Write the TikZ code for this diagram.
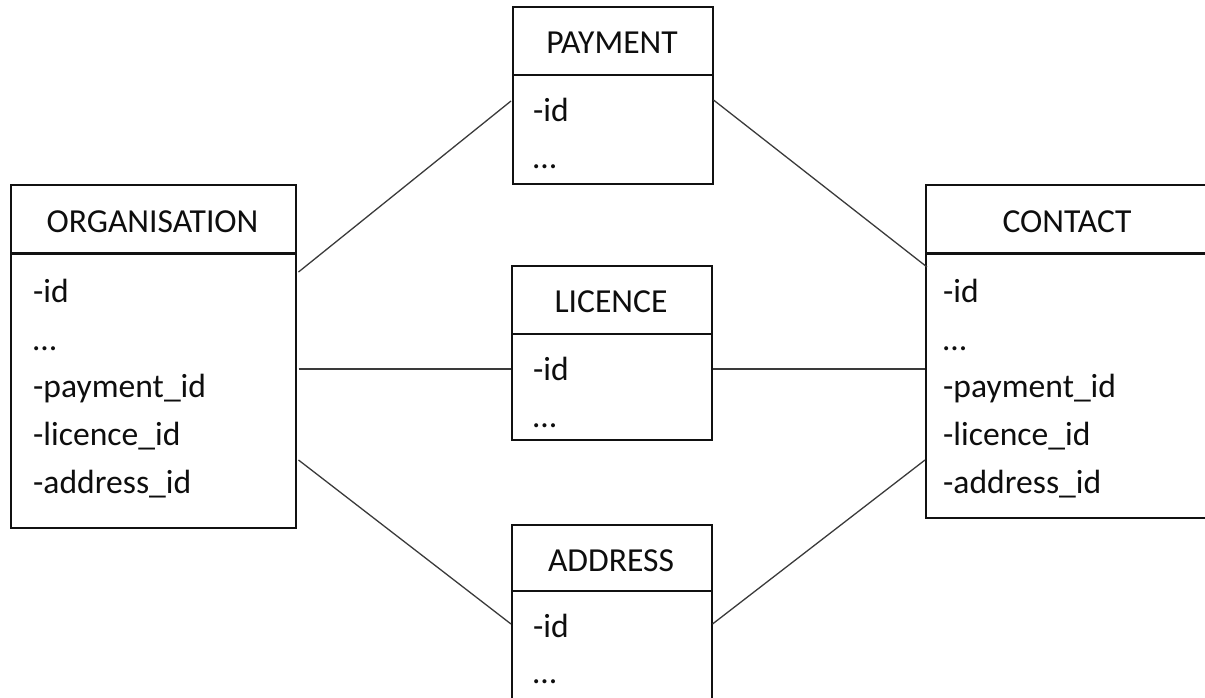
\documentclass[tikz,border=0pt]{standalone}
\usepackage{fontspec}
\setmainfont{Carlito}
\usetikzlibrary{calc}
\definecolor{inkline}{HTML}{111111}
\definecolor{linkline}{HTML}{3A3A3A}
\definecolor{inktext}{HTML}{0E0E0E}
\tikzset{
  boxpart/.style={draw=inkline, line width=1.5pt, rectangle, anchor=north west, inner sep=0pt},
  divider/.style={draw=inkline, line width=2.6pt},
  title/.style={anchor=base, inner sep=0pt, text=inktext, font=\fontsize{33.6}{40}\selectfont},
  field/.style={anchor=base west, inner sep=0pt, text=inktext, font=\fontsize{33.6}{40}\selectfont},
  link/.style={draw=linkline, line width=1.3pt}
}
\begin{document}
\begin{tikzpicture}[x=1pt, y=-1pt]
\useasboundingbox (0,0) rectangle (1205,697);

% ORGANISATION table
\node[boxpart, minimum width=285pt, minimum height=69pt]  (orghead) at (10,184) {};
\node[boxpart, minimum width=285pt, minimum height=274pt] (orgbody) at (10,253) {};
\draw[divider] (orgbody.north west) -- (orgbody.north east);
\node[title] (orgtitle) at (152.5,232) {ORGANISATION};
\node[field] (orgf1) at (33,302) {-id};
\node[field] (orgf2) at (33,350) {…};
\node[field] (orgf3) at (33,397) {-payment\_id};
\node[field] (orgf4) at (33,445) {-licence\_id};
\node[field] (orgf5) at (33,493) {-address\_id};

% PAYMENT table
\node[boxpart, minimum width=200pt, minimum height=68pt]  (payhead) at (512,6) {};
\node[boxpart, minimum width=200pt, minimum height=109pt] (paybody) at (512,74) {};
\node[title] (paytitle) at (612,53) {PAYMENT};
\node[field] (payf1) at (533,121) {-id};
\node[field] (payf2) at (533,168) {…};

% LICENCE table
\node[boxpart, minimum width=200pt, minimum height=68pt]  (lichead) at (511,265) {};
\node[boxpart, minimum width=200pt, minimum height=106pt] (licbody) at (511,333) {};
\node[title] (lictitle) at (611,312) {LICENCE};
\node[field] (licf1) at (533,380) {-id};
\node[field] (licf2) at (533,427) {…};

% ADDRESS table
\node[boxpart, minimum width=200pt, minimum height=66pt]  (addhead) at (511,524) {};
\node[boxpart, minimum width=200pt, minimum height=111pt] (addbody) at (511,590) {};
\node[title] (addtitle) at (611,571) {ADDRESS};
\node[field] (addf1) at (533,637) {-id};
\node[field] (addf2) at (533,683) {…};

% CONTACT table
\node[boxpart, minimum width=284pt, minimum height=69pt]  (conhead) at (925,184) {};
\node[boxpart, minimum width=284pt, minimum height=264pt] (conbody) at (925,253) {};
\draw[divider] (conbody.north west) -- (conbody.north east);
\node[title] (contitle) at (1067,232) {CONTACT};
\node[field] (conf1) at (943,302) {-id};
\node[field] (conf2) at (943,350) {…};
\node[field] (conf3) at (943,397) {-payment\_id};
\node[field] (conf4) at (943,445) {-licence\_id};
\node[field] (conf5) at (943,493) {-address\_id};

% relations
\draw[link] ($(orgbody.north east)+(2,19)$)  -- ($(paybody.north west)+(-1,27)$);
\draw[link] ($(paybody.north east)+(0,26)$)  -- ($(conbody.north west)+(2,14)$);
\draw[link] ($(orgbody.north east)+(2,116)$) -- ($(licbody.north west)+(0,36)$);
\draw[link] ($(licbody.north east)+(0,36)$)  -- ($(conbody.north west)+(0,116)$);
\draw[link] ($(orgbody.north east)+(2,207)$) -- ($(addbody.north west)+(0,34)$);
\draw[link] ($(addbody.north east)+(0,34)$)  -- ($(conbody.north west)+(0,207)$);
\end{tikzpicture}
\end{document}
